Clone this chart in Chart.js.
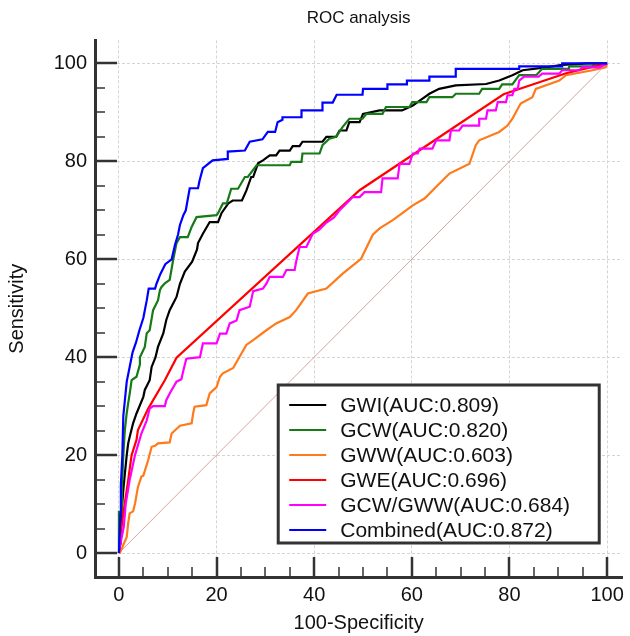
<!DOCTYPE html>
<html>
<head>
<meta charset="utf-8">
<script src="https://cdn.jsdelivr.net/npm/chart.js@4/dist/chart.umd.min.js"></script>
<style>
  body { margin: 0; background: #fff; }
  canvas { display: block; }
</style>
</head>
<body>
<canvas id="rocChart" width="630" height="636"></canvas>
<script>
// ROC curves as [100-Specificity, Sensitivity] points
const gwiPoints = [[0,0],[0.3,2],[0.35,5.4],[0.6,9],[0.9,12.9],[1.2,16],[1.6,20],[1.9,22.4],[2.2,23.7],[2.9,26.5],[3.6,28.5],[3.9,29.2],[5.0,31.9],[5.3,33.3],[6.3,35.3],[6.7,38],[7.5,40],[8.0,42.1],[9.1,44.9],[9.7,47.6],[10.4,49.6],[11.8,52.3],[12.5,55],[13.5,57.5],[15,59.5],[16,62],[16.2,63.3],[17.2,65.2],[18.6,67.6],[20.3,67.6],[21,69.4],[22.4,71.4],[23.3,72],[25.2,72],[26.1,74],[27.1,76.8],[27.5,76.8],[28.5,79.6],[29.5,80.2],[30.9,81.2],[32.2,81.2],[32.9,82.2],[35,82.2],[35.6,83.1],[37,83.1],[37.6,84],[41.7,84],[42.5,85],[44.5,85],[45.2,86.3],[46.6,86.3],[47.2,88],[49.3,88],[50,89.7],[53.4,90.4],[58,90.4],[60.2,91.4],[62.2,92.8],[63.6,93.8],[65.6,94.8],[69,95.5],[75.2,95.8],[77.9,96.5],[80.6,97.6],[82.7,98.6],[87.5,99.2],[90.8,99.7],[96,100],[100,100]];
const gcwPoints = [[0,0],[0,8.4],[0.6,8.4],[0.6,12.9],[0.9,20],[1.2,25],[1.6,28.6],[1.9,30.6],[2.2,32.5],[2.6,35.3],[3.6,36],[4.3,38.5],[4.3,40],[5.3,42.1],[5.7,44.9],[6.3,45.5],[7.0,49.6],[8.0,51.6],[8.4,53.7],[8.7,54.3],[9.4,55.1],[10.4,55.8],[11.1,59.8],[11.8,63.3],[12.5,64.5],[14.1,64.5],[14.9,66.6],[15.9,68.6],[20,69],[20.3,69.4],[21.3,71.4],[22.1,71.4],[23,74.4],[24.4,74.4],[25.8,76.8],[26.4,76.8],[28.2,79.2],[35,79.2],[35.3,79.9],[37.4,79.9],[37.6,81.6],[41.1,81.6],[41.7,83.3],[43.1,84.6],[44.5,85],[45.8,87],[47.2,88.7],[49.9,88.7],[50.7,89.7],[54,89.7],[54.7,91.1],[59.5,91.1],[60.1,92.1],[63,92.1],[63.6,93.1],[68.3,93.1],[69,93.8],[73.8,93.8],[74.4,94.8],[77.9,94.8],[78.5,95.7],[80.6,95.7],[82,97.6],[85.5,97.6],[86.7,98.9],[92.2,98.9],[92.2,99.4],[97,99.4],[97.5,100],[100,100]];
const gwwPoints = [[0,0],[0.2,0],[1.6,3.3],[1.9,6.1],[2.2,8.1],[2.9,8.5],[3.3,10.1],[3.9,13.5],[4.6,15.6],[5,15.8],[6,19],[6.7,21.7],[7.4,21.9],[8,22.4],[10.4,22.6],[10.8,24.4],[12.5,26],[14.9,26.5],[15.2,28.5],[15.5,29.9],[17.9,30.2],[18.6,32.6],[20,33.9],[20.7,36],[21.3,36.7],[23.4,37.8],[26.1,42.5],[27.5,43.5],[30.2,45.5],[32.2,46.9],[35,48.2],[36.3,49.6],[38.7,53],[42.5,54],[45.9,57.1],[49.6,60.1],[52,65],[53.4,66.3],[56.1,68],[60.2,71],[62.6,72.4],[65,74.8],[67.7,77.5],[71.8,79.5],[73.1,83.3],[73.8,84.3],[77.9,86],[79.6,87.3],[80.6,88.7],[82.3,91.8],[84.7,93.1],[85.4,94.8],[90.2,96.5],[91.6,97.6],[97,98.6],[99.7,99.2],[100,100]];
const gwePoints = [[0,0],[0.55,5.4],[0.9,8.1],[1.9,14.9],[2.6,20],[3.6,23.1],[3.9,25.1],[6.0,29.5],[9.4,35.3],[11.8,39.9],[49.3,74.1],[78.8,93.7],[91.6,98],[100,100]];
const ratioPoints = [[0,0],[0.2,1.3],[1.0,5.4],[1.4,10.1],[2.2,14.9],[3.3,20],[4.6,24.4],[5.7,27.1],[6.3,29.5],[7,30],[9.4,30],[9.7,31.2],[10.4,32.6],[11.8,35],[12.8,35.5],[13.2,37.3],[13.8,39.7],[16.6,40],[17.2,42.8],[20,42.8],[20.7,44.8],[22,44.8],[22.7,46.9],[24.1,47.5],[24.7,49.6],[26.8,50.3],[27.5,53.5],[29.5,54],[30.2,55],[30.9,56.4],[33.6,56.4],[34.3,57.8],[36,57.8],[36.3,59.5],[37,62.5],[38.4,62.5],[39.7,65.2],[41,66],[42.5,67.5],[44,68.5],[45.2,70],[46.6,71.4],[47.9,72.7],[49.3,72.7],[50.3,73.7],[53.7,73.7],[54,76.5],[57.1,76.5],[57.5,79.5],[59.5,79.5],[60.2,81.6],[61.2,81.6],[61.6,82.6],[64.2,82.6],[65,84.3],[67.7,84.3],[68,86.3],[69.7,86.3],[70.4,87.3],[73.8,87.3],[73.8,88.7],[75.2,88.7],[75.5,90.4],[77.2,90.4],[77.6,92.1],[79.3,92.1],[79.6,93.5],[80.6,93.5],[81,94.8],[81.7,94.8],[82,96.5],[83,97.3],[86,97.3],[86.7,97.9],[90.2,97.9],[90.8,98.6],[94.3,98.6],[94.9,99.2],[98.4,99.2],[100,100]];
const combinedPoints = [[0,0],[0.3,8],[0.4,14],[0.7,20],[0.9,28],[1.2,31],[1.6,35],[2.2,38],[2.8,41],[3.5,43],[4.2,45.5],[5,48],[5.7,51.6],[6.1,54],[7.4,54],[7.7,55],[8.5,57],[9.5,59],[10.8,60],[11.5,63],[12.1,65],[12.5,67],[13.2,69],[13.7,70],[14.5,74.5],[16.2,74.5],[16.5,76],[17.2,78.6],[19.2,80.2],[22.3,80.5],[22.3,82],[25.8,82.2],[26.8,84],[29.4,84.5],[30.5,86],[32,86],[32.5,88],[33.5,88.5],[33.5,89],[37.4,89],[37.4,90.4],[41.7,90.4],[41.7,92],[43.8,92],[44.6,93.6],[49.9,93.6],[50,94.8],[55,94.8],[55,95.7],[59,95.7],[59,96.5],[63.6,96.5],[63.6,97.3],[69,97.3],[69,98.9],[82,98.9],[82,99.4],[90.8,99.4],[90.8,100],[100,100]];
const chancePoints = [[0,0],[100,100]];

const seriesLabels = ['GWI(AUC:0.809)', 'GCW(AUC:0.820)', 'GWW(AUC:0.603)', 'GWE(AUC:0.696)', 'GCW/GWW(AUC:0.684)', 'Combined(AUC:0.872)'];
const seriesPoints = [gwiPoints, gcwPoints, gwwPoints, gwePoints, ratioPoints, combinedPoints];
const seriesColors = ['#000000', '#167a16', '#ff7a1a', '#ff0000', '#ff00ff', '#0000ff'];

const majorTicks = [0, 20, 40, 60, 80, 100];
const allTicks = [0,5,10,15,20,25,30,35,40,45,50,55,60,65,70,75,80,85,90,95,100];

const FONT = "'Liberation Sans', Arial, sans-serif";

// inward tick marks, long at every 20, short at every 5
const tickMarks = {
  id: 'tickMarks',
  afterDraw(chart) {
    const { ctx, chartArea, scales: { x, y } } = chart;
    ctx.save();
    ctx.strokeStyle = '#333';
    allTicks.forEach(v => {
      const major = v % 20 === 0;
      ctx.lineWidth = major ? 2.5 : 1.5;
      const px = Math.round(x.getPixelForValue(v));
      ctx.beginPath();
      ctx.moveTo(px, chartArea.bottom);
      ctx.lineTo(px, chartArea.bottom - (major ? 20 : 10));
      ctx.stroke();
      const py = Math.round(y.getPixelForValue(v));
      ctx.beginPath();
      ctx.moveTo(chartArea.left, py);
      ctx.lineTo(chartArea.left + (major ? 22 : 10), py);
      ctx.stroke();
    });
    ctx.restore();
  }
};

// boxed legend in the lower right of the plot
const boxLegend = {
  id: 'boxLegend',
  afterDraw(chart) {
    const { ctx, chartArea } = chart;
    const left = chartArea.right - 344;
    const top = chartArea.bottom - 192;
    ctx.save();
    ctx.fillStyle = '#fff';
    ctx.fillRect(left, top, 321, 158);
    ctx.strokeStyle = '#333';
    ctx.lineWidth = 3;
    ctx.strokeRect(left, top, 321, 158);
    ctx.font = '21px ' + FONT;
    ctx.textBaseline = 'middle';
    seriesLabels.forEach((label, i) => {
      const cy = top + 20 + i * 25;
      ctx.strokeStyle = seriesColors[i];
      ctx.lineWidth = 2;
      ctx.beginPath();
      ctx.moveTo(left + 11, cy);
      ctx.lineTo(left + 48, cy);
      ctx.stroke();
      ctx.fillStyle = '#111';
      ctx.fillText(label, left + 62, cy + 1);
    });
    ctx.restore();
  }
};

const datasets = seriesLabels.map((label, i) => ({
  label: label,
  data: seriesPoints[i].map(p => ({ x: p[0], y: p[1] })),
  borderColor: seriesColors[i],
  borderWidth: 2.2,
  showLine: true,
  pointRadius: 0,
  tension: 0,
  order: seriesLabels.length - i
}));
datasets.push({
  label: 'chance',
  data: chancePoints.map(p => ({ x: p[0], y: p[1] })),
  borderColor: '#d4a4a4',
  borderWidth: 1,
  showLine: true,
  pointRadius: 0,
  order: 10
});

const ctx = document.getElementById('rocChart').getContext('2d');
new Chart(ctx, {
  type: 'scatter',
  data: { datasets: datasets },
  plugins: [tickMarks, boxLegend],
  options: {
    responsive: false,
    animation: false,
    layout: { padding: { left: 0, right: 7, top: 0, bottom: 0 } },
    plugins: {
      legend: { display: false },
      tooltip: { enabled: false },
      title: {
        display: true,
        text: 'ROC analysis',
        fullSize: false,
        color: '#111',
        font: { family: FONT, size: 17, weight: 'normal' },
        padding: { top: 8, bottom: 12 }
      }
    },
    scales: {
      x: {
        type: 'linear',
        min: -4.9,
        max: 103.1,
        afterBuildTicks: s => { s.ticks = majorTicks.map(v => ({ value: v })); },
        afterFit: s => { s.height = 59; },
        grid: { color: '#d4d4d4', lineWidth: 1, drawTicks: false },
        border: { display: true, color: '#333', width: 3, dash: [3, 2] },
        ticks: { color: '#111', padding: 6, maxRotation: 0, font: { family: FONT, size: 20 } },
        title: {
          display: true,
          text: '100-Specificity',
          color: '#111',
          font: { family: FONT, size: 20 },
          padding: { top: 0, bottom: 1 }
        }
      },
      y: {
        type: 'linear',
        min: -4.9,
        max: 104.7,
        afterBuildTicks: s => { s.ticks = majorTicks.map(v => ({ value: v })); },
        afterFit: s => { s.width = 95; },
        grid: { color: '#d4d4d4', lineWidth: 1, drawTicks: false },
        border: { display: true, color: '#333', width: 3, dash: [3, 2] },
        ticks: { color: '#111', padding: 8, font: { family: FONT, size: 20 } },
        title: {
          display: true,
          text: 'Sensitivity',
          color: '#111',
          font: { family: FONT, size: 20 },
          padding: { top: 5, bottom: 0 }
        }
      }
    }
  }
});
</script>
</body>
</html>
